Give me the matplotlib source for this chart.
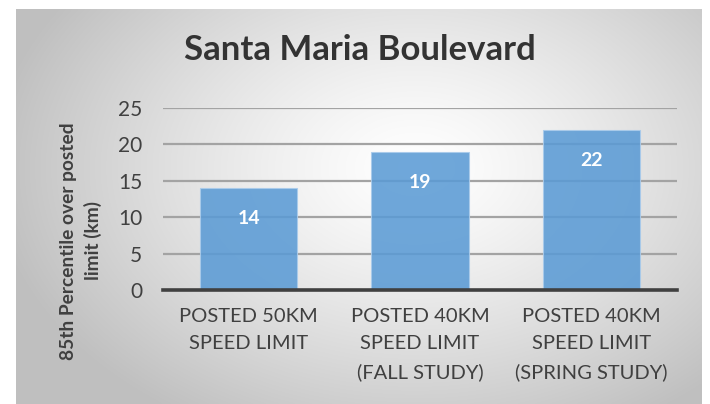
import numpy as np
import matplotlib
matplotlib.use("Agg")
import matplotlib.pyplot as plt

categories = ["POSTED 50KM\nSPEED LIMIT",
              "POSTED 40KM\nSPEED LIMIT\n(FALL STUDY)",
              "POSTED 40KM\nSPEED LIMIT\n(SPRING STUDY)"]
values = [14, 19, 22]
yticks = [0, 5, 10, 15, 20, 25]
title = "Santa Maria Boulevard"
ylabel = "85th Percentile over posted\nlimit (km)"

plt.rcParams['font.family'] = ['Lato', 'DejaVu Sans']

W, H = 710, 404
fig = plt.figure(figsize=(W / 100, H / 100), dpi=100)
fig.patch.set_facecolor('white')

# gradient background panel
bg = fig.add_axes([16 / W, 0, 686 / W, 395 / H])
bg.set_axis_off()
ny, nx = 200, 350
yy, xx = np.mgrid[0:ny, 0:nx]
cx, cy = 0.58 * nx, 0.40 * ny
d = np.sqrt(((xx - cx) / (0.62 * nx)) ** 2 + ((yy - cy) / (0.75 * ny)) ** 2)
d = np.clip(d, 0, 1)
val = 1.0 - 0.25 * d ** 1.3
img = np.dstack([val, val, val])
bg.imshow(img, aspect='auto', extent=[0, 1, 0, 1], interpolation='bilinear')
bg.set_xlim(0, 1)
bg.set_ylim(0, 1)

ax = fig.add_axes([163 / W, 1 - 290 / H, (677 - 163) / W, (290 - 108) / H])
ax.patch.set_alpha(0)
x = np.arange(len(values))
bars = ax.bar(x, values, width=0.57, color='#5b9bd5', alpha=0.88,
              edgecolor='#a9cbeb', linewidth=0.8, zorder=3)
ax.set_xlim(-0.5, len(values) - 0.5)
ax.set_ylim(0, 25)
ax.set_yticks(yticks)
ax.set_yticklabels([str(t) for t in yticks], fontsize=15, color='#404040')
for t in yticks[1:]:
    ax.axhline(t, color='#a3a3a3', lw=1.6, zorder=1)
ax.axhline(0, color='#404040', lw=2.6, zorder=4, clip_on=False)
for s in ax.spines.values():
    s.set_visible(False)
ax.tick_params(axis='y', length=0, pad=15)
ax.set_xticks(x)
ax.set_xticklabels(categories, fontsize=14.5, color='#404040', linespacing=1.74, va='top')
ax.tick_params(axis='x', length=0, pad=13)

for xi, v in zip(x, values):
    ax.annotate(str(v), (xi, v), xytext=(0, -22), textcoords='offset points',
                ha='center', va='center', color='white', fontsize=14, fontweight='bold', zorder=5)

fig.text(360 / W, 1 - 50 / H, title, ha='center', va='center', fontsize=25,
         fontweight='bold', color='#333333')
fig.text(81 / W, 1 - 241 / H, ylabel, ha='center', va='center', rotation=90,
         fontsize=13.8, fontweight='bold', color='#404040', linespacing=1.47, multialignment='center')

fig.savefig('out.png', dpi=100)
